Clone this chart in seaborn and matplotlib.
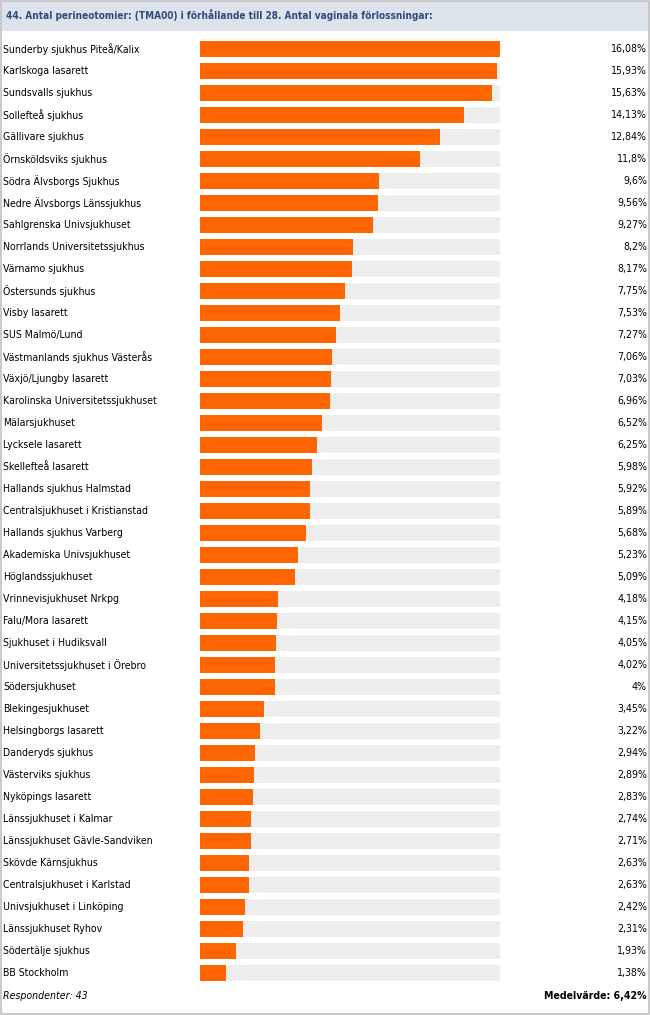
import matplotlib
matplotlib.use("Agg")
import matplotlib.pyplot as plt
import seaborn as sns
import pandas as pd
from matplotlib.patches import Rectangle

title = "44. Antal perineotomier: (TMA00) i förhållande till 28. Antal vaginala förlossningar:"

hospitals = [
    "Sunderby sjukhus Piteå/Kalix", "Karlskoga lasarett", "Sundsvalls sjukhus",
    "Sollefteå sjukhus", "Gällivare sjukhus", "Örnsköldsviks sjukhus",
    "Södra Älvsborgs Sjukhus", "Nedre Älvsborgs Länssjukhus", "Sahlgrenska Univsjukhuset",
    "Norrlands Universitetssjukhus", "Värnamo sjukhus", "Östersunds sjukhus",
    "Visby lasarett", "SUS Malmö/Lund", "Västmanlands sjukhus Västerås",
    "Växjö/Ljungby lasarett", "Karolinska Universitetssjukhuset", "Mälarsjukhuset",
    "Lycksele lasarett", "Skellefteå lasarett", "Hallands sjukhus Halmstad",
    "Centralsjukhuset i Kristianstad", "Hallands sjukhus Varberg", "Akademiska Univsjukhuset",
    "Höglandssjukhuset", "Vrinnevisjukhuset Nrkpg", "Falu/Mora lasarett",
    "Sjukhuset i Hudiksvall", "Universitetssjukhuset i Örebro", "Södersjukhuset",
    "Blekingesjukhuset", "Helsingborgs lasarett", "Danderyds sjukhus",
    "Västerviks sjukhus", "Nyköpings lasarett", "Länssjukhuset i Kalmar",
    "Länssjukhuset Gävle-Sandviken", "Skövde Kärnsjukhus", "Centralsjukhuset i Karlstad",
    "Univsjukhuset i Linköping", "Länssjukhuset Ryhov", "Södertälje sjukhus",
    "BB Stockholm",
]
values = [
    16.08, 15.93, 15.63, 14.13, 12.84, 11.8, 9.6, 9.56, 9.27, 8.2, 8.17, 7.75,
    7.53, 7.27, 7.06, 7.03, 6.96, 6.52, 6.25, 5.98, 5.92, 5.89, 5.68, 5.23,
    5.09, 4.18, 4.15, 4.05, 4.02, 4.0, 3.45, 3.22, 2.94, 2.89, 2.83, 2.74,
    2.71, 2.63, 2.63, 2.42, 2.31, 1.93, 1.38,
]
respondents = 43
mean_value = "6,42%"

df = pd.DataFrame({"hospital": hospitals, "value": values})
vmax = max(values)
df["full"] = vmax

W, H = 650, 1015
fig = plt.figure(figsize=(W / 100, H / 100), dpi=100)
txt = dict(family="DejaVu Sans", fontstretch="condensed", fontsize=7.6)

# header band and outer border
fig.patches.append(Rectangle((1 / W, 1 - 31 / H), 648 / W, 30 / H, transform=fig.transFigure,
                             facecolor="#dde3ec", edgecolor="none", zorder=0))
fig.patches.append(Rectangle((0.5 / W, 1.5 / H), 648.5 / W, 1012.5 / H, transform=fig.transFigure,
                             facecolor="none", edgecolor="#c0c0c0", lw=1.2, zorder=5))
fig.text(6 / W, 1 - 15 / H, title, ha="left", va="center", fontweight="bold",
         color="#2e4a7e", family="DejaVu Sans", fontstretch="condensed", fontsize=7.2)

row_h = 22
top, n = 38, len(values)
ax = fig.add_axes([200 / W, (H - top - n * row_h) / H, 300 / W, n * row_h / H])
sns.barplot(data=df, y="hospital", x="full", color="#ededed", width=16 / 22, ax=ax,
            saturation=1, orient="h")
sns.barplot(data=df, y="hospital", x="value", color="#ff6600", width=16 / 22, ax=ax,
            saturation=1, orient="h")
ax.set_xlim(0, vmax)
ax.set_ylim(n - 0.5, -0.5)
ax.axis("off")

for i, (name, v) in enumerate(zip(hospitals, values)):
    y = 1 - (top + row_h * (i + 0.5)) / H
    fig.text(3 / W, y, name, ha="left", va="center", color="black", **txt)
    fig.text(647 / W, y, f"{v:g}".replace(".", ",") + "%", ha="right", va="center",
             color="black", **txt)

fy = 1 - 996 / H
fig.text(3 / W, fy, f"Respondenter: {respondents}", ha="left", va="center",
         style="italic", **txt)
fig.text(647 / W, fy, f"Medelvärde: {mean_value}", ha="right", va="center",
         fontweight="bold", **txt)

fig.savefig("out.png", dpi=100)
